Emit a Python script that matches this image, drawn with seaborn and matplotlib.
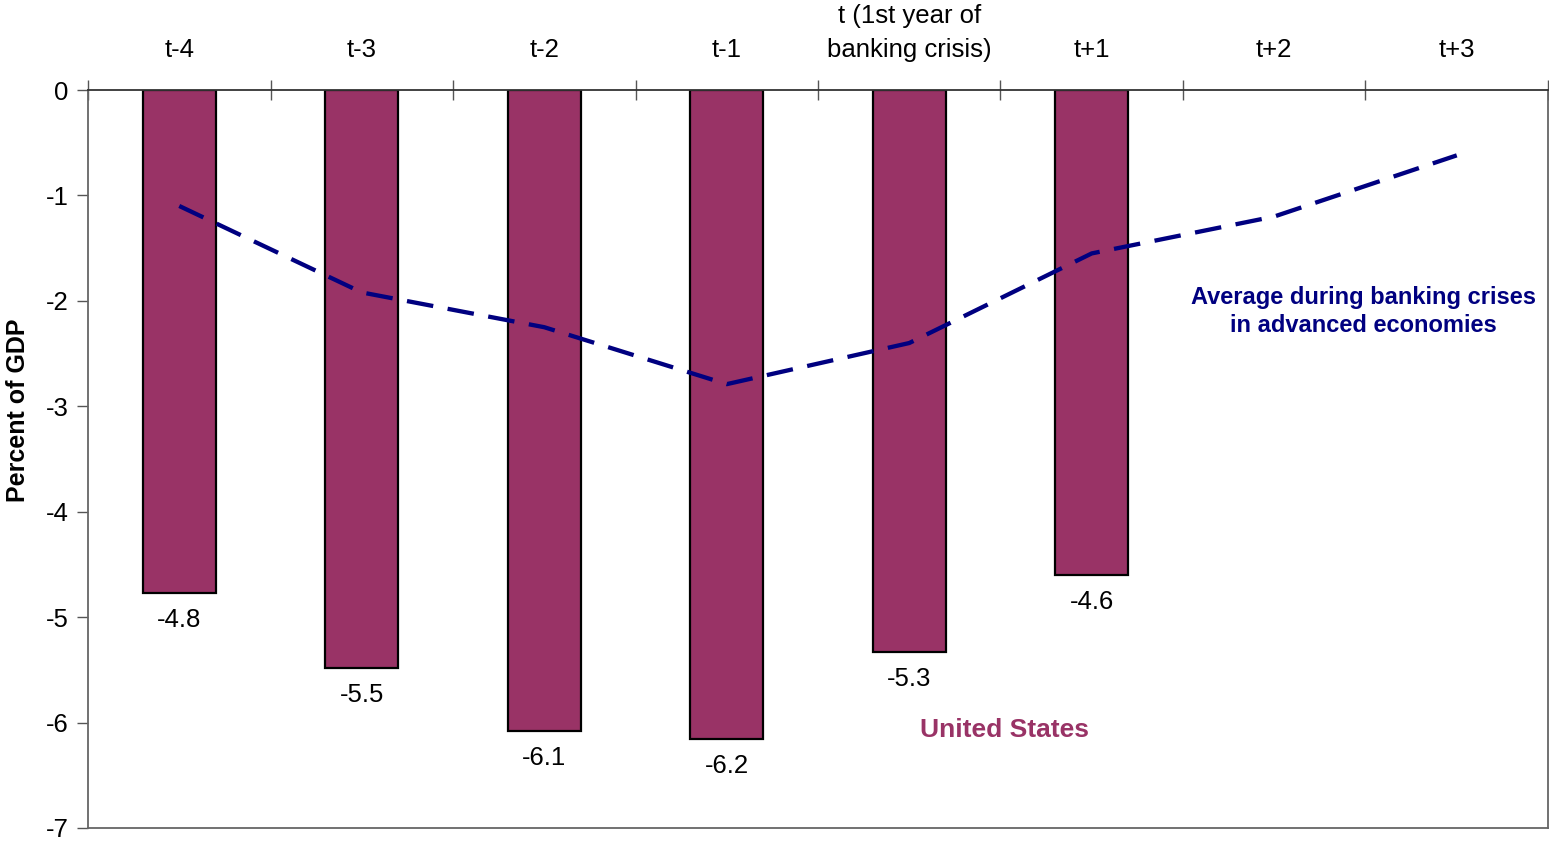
import numpy as np
import pandas as pd
import matplotlib
matplotlib.use("Agg")
import matplotlib.pyplot as plt
import seaborn as sns

categories = ["t-4", "t-3", "t-2", "t-1", "t (1st year of\nbanking crisis)", "t+1", "t+2", "t+3"]
us_balance = [-4.77, -5.48, -6.08, -6.16, -5.33, -4.60, np.nan, np.nan]
crisis_avg = [-1.10, -1.92, -2.25, -2.79, -2.40, -1.55, -1.20, -0.62]
y_ticks = [0, -1, -2, -3, -4, -5, -6, -7]

bar_color = "#993366"
line_color = "#000080"

sns.set_theme(style="white")
plt.rcParams["font.family"] = ["Liberation Sans", "DejaVu Sans"]
plt.rcParams["text.color"] = "black"
plt.rcParams["xtick.color"] = "black"
plt.rcParams["ytick.color"] = "black"

W, H = 1549, 841
fig = plt.figure(figsize=(W / 100, H / 100), dpi=100)
ax = fig.add_axes([88 / W, 1 - 828 / H, 1460 / W, 738 / H])

df = pd.DataFrame({"period": categories, "us": us_balance, "avg": crisis_avg})
pos = np.arange(len(categories))

sns.barplot(data=df, x="period", y="us", order=categories, color=bar_color,
            saturation=1, width=0.4, edgecolor="black", linewidth=1.6, ax=ax)

sns.lineplot(x=pos, y=df["avg"], color=line_color, linewidth=3.1, ax=ax,
             dashes=False)
ax.lines[-1].set_dashes([6.2, 3.4])

# value labels below each bar
for i, v in enumerate(us_balance):
    if not np.isnan(v):
        ax.text(i, v - 0.14, f"{v:.1f}", ha="center", va="top",
                fontsize=18.5, color="black")

ax.set_xlim(-0.5, len(categories) - 0.5)
ax.set_ylim(-7, 0)
ax.set_yticks(y_ticks)
ax.set_yticklabels([str(t) for t in y_ticks], fontsize=18.5)

# category labels along the top, ticks on category boundaries
ax.xaxis.tick_top()
ax.set_xticks(pos)
ax.set_xticklabels(categories, fontsize=18.5, linespacing=1.55)
ax.tick_params(axis="x", which="major", length=0, pad=20, labelcolor="black")
ax.set_xticks(np.arange(-0.5, len(categories) + 0.5, 1), minor=True)
ax.tick_params(axis="x", which="minor", direction="inout", length=14,
               width=1.0, color="#555555", top=True, bottom=False)
ax.tick_params(axis="y", direction="out", length=8, width=1.0,
               color="#555555", pad=6, left=True, labelcolor="black")
ax.set_xlabel("")
ax.set_ylabel("")

fig.text(18 / W, 1 - 410 / H, "Percent of GDP", rotation=90, fontsize=18,
         fontweight="bold", ha="center", va="center", color="black")

for side in ["left", "right", "bottom", "top"]:
    ax.spines[side].set_visible(True)
    ax.spines[side].set_color("#666666")
    ax.spines[side].set_linewidth(1.3)
ax.spines["top"].set_color("#333333")

ax.text(4.06, -6.07, "United States", color=bar_color, fontsize=19,
        fontweight="bold", ha="left", va="center")
ax.text(6.49, -2.10, "Average during banking crises\nin advanced economies",
        color=line_color, fontsize=17, fontweight="bold", ha="center",
        va="center", linespacing=1.3)

fig.savefig("out.png", dpi=100, facecolor="white")
